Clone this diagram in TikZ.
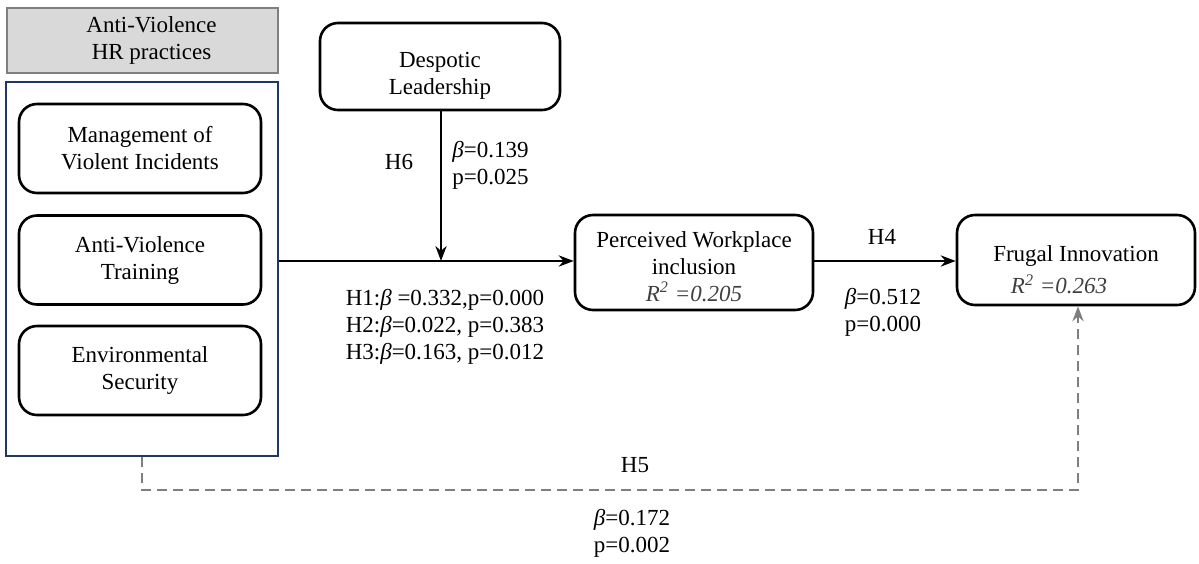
\documentclass[tikz,border=0pt]{standalone}
\usepackage{fontspec}
\setmainfont{Liberation Serif}
\usetikzlibrary{positioning,arrows.meta,calc}
\definecolor{navyline}{HTML}{1F3864}
\definecolor{headgray}{HTML}{D9D9D9}
\definecolor{edgegray}{HTML}{7F7F7F}
\definecolor{rsqgray}{HTML}{404040}
\newcommand{\rsq}[1]{{\color{rsqgray}\textit{R\textsuperscript{2} =#1}}}
\newcommand{\bet}{\textit{β}}
\newcommand{\lowstrut}[1]{\rule{0pt}{#1}}
\tikzset{
  >=Stealth,
  every node/.style={font=\fontsize{11.5}{13.5}\selectfont},
  var/.style={draw,rounded corners=9pt,line width=1.3pt,align=center,inner sep=2pt},
}

\begin{document}
\begin{tikzpicture}[
  x=0.5pt,y=-0.5pt,
  path/.style={->,line width=1pt},
  h5line/.style={->,edgegray,line width=1pt,dash pattern=on 5pt off 3pt},
  lbl/.style={align=center,inner sep=0pt}
]
  \useasboundingbox (0,0) rectangle (1199,563);

  % predictor block
  \node[draw=edgegray,fill=headgray,line width=0.9pt,minimum width=135.5pt,
        minimum height=32.5pt,align=center] (head) at (142.5,40.5)
       {\hspace*{9pt}Anti-Violence\\ \hspace*{9pt}HR practices};
  \node[draw=navyline,line width=1pt,minimum width=136pt,minimum height=187pt]
       (hrbox) at (142,269) {};
  \node[var,minimum width=121pt,minimum height=44.5pt] (mvi) at (140,148.5)
       {Management of\\Violent Incidents};
  \node[var,minimum width=121pt,minimum height=44.5pt] (avt) at (140,260)
       {Anti-Violence\\Training};
  \node[var,minimum width=121pt,minimum height=44.5pt] (env) at (140,370.5)
       {Environmental\\Security};

  % moderator, mediator, outcome
  \node[var,minimum width=120pt,minimum height=43.5pt] (des) at (440,66.5)
       {\lowstrut{17pt}Despotic\\Leadership};
  \node[var,minimum width=119pt,minimum height=47.5pt] (pwi) at (694,262.5)
       {\lowstrut{12pt}Perceived Workplace\\inclusion\\\rsq{0.205}};
  \node[var,minimum width=119pt,minimum height=45pt] (fi) at (1076,260)
       {\lowstrut{18pt}Frugal Innovation\\[2.5pt]\hspace*{-17pt}\rsq{0.263}};

  \coordinate (mid) at (441,261);
  \coordinate (h5a) at (142,490);
  \coordinate (h5b) at (1078,490);

  \draw[path] (hrbox.east |- mid) -- (pwi.west |- mid);
  \draw[path] (des.south -| mid) -- (mid);
  \draw[path] (pwi.east |- mid) -- (fi.west |- mid);
  \draw[h5line] (hrbox.south -| h5a) -- (h5a) -- (h5b) -- (fi.south -| h5b);

  % path labels
  \node[lbl] (h6) at (399,162) {H6};
  \node[lbl,align=left,anchor=west] (b6) at (452,165) {\bet=0.139\\ p=0.025};
  \node[lbl] (h13) at (445,327)
       {H1:\bet{} =0.332,p=0.000\\H2:\bet=0.022, p=0.383\\H3:\bet=0.163, p=0.012};
  \node[lbl] (h4) at (882,237) {H4};
  \node[lbl] (b4) at (883,312.5) {\bet=0.512\\ p=0.000};
  \node[lbl] (h5) at (635,465) {H5};
  \node[lbl] (b5) at (632,533) {\bet=0.172\\ p=0.002};
\end{tikzpicture}
\end{document}
